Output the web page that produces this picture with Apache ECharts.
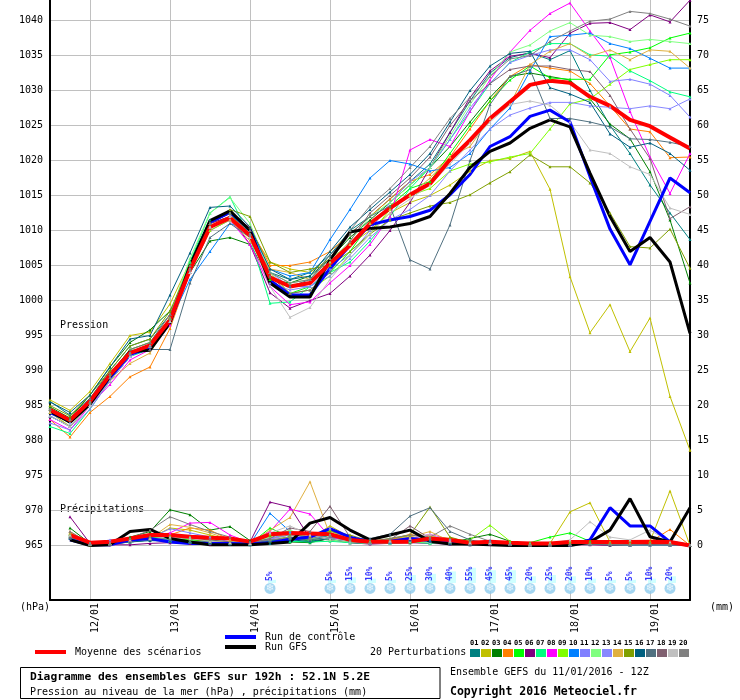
<html lang="fr">
<head>
<meta charset="utf-8">
<title>Diagramme des ensembles GEFS</title>
<script src="https://cdn.jsdelivr.net/npm/echarts@6/dist/echarts.min.js"></script>
<style>
  body { margin: 0; background: #fff; }
  #chart { width: 740px; height: 700px; }
</style>
</head>
<body>
<div id="chart"></div>
<script>
// echeances toutes les 6h, run du 11/01/2016 12Z
var categories = ['11/01 12Z','11/01 18Z','12/01 00Z','12/01 06Z','12/01 12Z','12/01 18Z','13/01 00Z','13/01 06Z','13/01 12Z','13/01 18Z',
  '14/01 00Z','14/01 06Z','14/01 12Z','14/01 18Z','15/01 00Z','15/01 06Z','15/01 12Z','15/01 18Z','16/01 00Z','16/01 06Z',
  '16/01 12Z','16/01 18Z','17/01 00Z','17/01 06Z','17/01 12Z','17/01 18Z','18/01 00Z','18/01 06Z','18/01 12Z','18/01 18Z',
  '19/01 00Z','19/01 06Z','19/01 12Z'];

// pression (hPa)
var meanP = [984.4,982.9,985.6,989.4,992.5,993.6,997.2,1004.4,1010.5,1011.8,1009.3,
  1003.3,1002.0,1002.5,1005.3,1007.9,1011.0,1013.2,1015.1,1016.7,1020.1,1022.9,
  1026.0,1028.4,1030.8,1031.4,1031.1,1029.1,1027.8,1025.8,1024.9,1023.3,1021.7];
var ctrlP = [984.0,982.8,985.3,989.0,992.3,993.2,997.0,1004.8,1011.2,1012.6,1010.1,
  1002.9,1000.8,1000.8,1004.6,1007.9,1010.8,1011.5,1012.0,1012.9,1015.1,1018.0,
  1022.0,1023.4,1026.3,1027.2,1025.5,1017.7,1010.2,1005.1,1011.3,1017.5,1015.4];
var gfsP = [984.2,982.6,985.2,989.2,992.7,992.9,996.8,1005.0,1011.4,1012.8,1010.0,
  1002.5,1000.5,1000.5,1005.8,1009.8,1010.3,1010.5,1011.0,1012.0,1015.3,1019.0,
  1021.3,1022.5,1024.6,1025.8,1024.8,1018.2,1012.0,1007.0,1009.0,1005.5,995.3];

var p01 = [985.6,983.6,986.0,990.0,993.5,994.5,998.0,1005.5,1011.5,1012.5,1009.5,
  1004.0,1003.0,1004.0,1006.5,1010.0,1012.0,1014.5,1017.0,1019.5,1024.0,1028.5,
  1032.5,1034.7,1035.4,1034.4,1035.7,1030.0,1025.0,1021.0,1016.5,1012.5,1008.7];
var p02 = [985.8,984.3,987.0,991.0,995.0,995.5,999.5,1005.5,1011.0,1012.0,1010.0,
  1005.5,1004.5,1004.0,1006.0,1008.0,1010.0,1012.5,1014.0,1015.0,1016.5,1018.5,
  1020.0,1020.3,1021.3,1015.9,1003.4,995.4,999.4,992.7,997.5,986.3,978.6];
var p03 = [984.8,983.2,986.5,990.5,994.0,995.8,998.5,1004.0,1008.5,1009.0,1008.0,
  1003.0,1002.5,1003.5,1006.0,1009.0,1011.5,1014.0,1016.5,1019.0,1022.0,1025.5,
  1029.0,1032.0,1032.5,1032.0,1031.5,1028.8,1025.2,1023.1,1018.4,1011.5,1002.5];
var p04 = [983.0,980.5,984.0,986.3,989.1,990.5,996.0,1004.0,1010.5,1012.0,1010.5,
  1005.0,1005.0,1005.5,1007.0,1009.5,1012.0,1014.5,1017.0,1018.0,1020.5,1024.5,
  1028.5,1032.0,1033.7,1033.2,1032.8,1031.0,1027.8,1024.5,1024.1,1020.4,1020.5];
var p05 = [984.0,982.0,985.0,989.5,993.0,994.0,997.5,1005.0,1011.0,1012.5,1009.0,
  1003.0,1001.0,1002.0,1004.0,1007.0,1011.0,1013.5,1016.0,1017.0,1021.0,1025.0,
  1028.5,1031.5,1033.5,1031.8,1031.6,1031.6,1035.1,1035.5,1036.1,1037.5,1038.2];
var p06 = [983.5,982.0,985.0,988.5,992.0,993.5,997.0,1004.5,1011.0,1012.0,1008.0,
  1001.1,998.9,1000.0,1001.0,1003.5,1006.5,1010.0,1014.0,1019.0,1024.0,1029.0,
  1032.8,1034.9,1035.3,1034.7,1038.2,1039.6,1039.7,1038.7,1040.8,1039.8,1042.9];
var p07 = [982.0,981.0,984.5,988.5,992.0,993.0,997.5,1005.5,1012.5,1014.8,1009.0,
  999.6,999.8,1002.0,1004.0,1005.5,1008.5,1012.0,1016.0,1019.0,1023.0,1027.0,
  1031.0,1034.0,1035.5,1036.7,1036.7,1035.1,1034.9,1032.8,1031.4,1029.8,1029.1];
var p08 = [983.0,981.5,985.0,988.0,991.5,993.0,996.5,1004.0,1010.0,1011.5,1008.0,
  1002.0,999.4,999.8,1002.5,1005.0,1008.0,1012.0,1021.5,1023.0,1022.0,1027.0,
  1031.5,1035.5,1038.6,1041.0,1042.5,1038.5,1034.7,1027.0,1020.5,1015.3,1021.0];
var p09 = [984.5,983.0,985.5,989.0,992.5,993.5,997.5,1004.0,1010.0,1011.5,1009.5,
  1004.0,1001.0,1001.5,1003.5,1006.5,1009.5,1013.0,1015.0,1016.0,1018.5,1019.5,
  1019.8,1020.5,1021.0,1024.5,1028.1,1028.8,1030.9,1033.0,1033.7,1034.4,1034.4];
var p10 = [983.5,982.0,985.0,988.5,992.0,993.5,997.0,1003.0,1007.0,1011.0,1010.0,
  1004.5,1003.5,1004.0,1008.7,1013.0,1017.5,1020.0,1019.5,1018.5,1019.0,1021.0,
  1024.5,1027.5,1032.8,1037.7,1037.9,1038.2,1036.7,1036.0,1034.6,1033.2,1033.2];
var p11 = [982.5,981.5,984.5,988.5,992.0,993.5,997.0,1004.0,1010.5,1012.0,1009.5,
  1004.0,1002.0,1002.0,1004.5,1006.5,1010.0,1014.0,1017.0,1019.0,1023.0,1027.5,
  1031.0,1034.0,1035.0,1035.8,1035.8,1034.4,1031.3,1031.6,1030.9,1029.3,1026.2];
var p12 = [984.0,982.5,985.5,989.5,993.0,994.0,998.0,1006.0,1012.5,1014.7,1011.0,
  1004.0,1002.5,1003.0,1005.5,1008.5,1012.0,1014.0,1016.5,1019.0,1023.5,1028.0,
  1032.0,1035.5,1036.5,1038.5,1039.7,1037.9,1037.7,1037.0,1037.3,1037.0,1036.7];
var p13 = [984.0,982.5,985.0,989.0,992.5,993.5,997.0,1004.5,1010.5,1011.5,1009.0,
  1002.5,1001.5,1002.0,1003.5,1006.0,1009.0,1011.5,1013.0,1015.0,1018.5,1021.5,
  1024.5,1026.5,1027.5,1028.3,1028.3,1027.8,1027.6,1027.4,1027.8,1027.4,1028.8];
var p14 = [984.0,982.0,985.0,988.5,991.0,992.5,997.0,1004.5,1010.5,1011.5,1008.5,
  1004.5,1004.0,1003.0,1005.0,1008.0,1011.0,1013.0,1015.0,1017.5,1020.5,1022.0,
  1026.0,1028.0,1033.7,1035.6,1036.7,1034.9,1035.8,1034.4,1035.8,1035.6,1033.2];
var p15 = [985.0,983.5,986.5,990.0,993.5,994.5,998.5,1005.0,1011.0,1013.0,1012.0,
  1005.5,1004.0,1004.5,1005.0,1007.0,1009.5,1011.5,1012.5,1013.5,1014.0,1015.1,
  1016.8,1018.4,1020.8,1019.1,1019.1,1016.8,1012.5,1007.7,1007.5,1010.2,1004.6];
var p16 = [985.5,984.0,986.5,990.5,994.5,995.0,1000.8,1006.8,1013.3,1013.5,1010.5,
  1004.5,1003.0,1003.5,1007.0,1010.5,1013.0,1015.5,1018.0,1021.0,1025.5,1030.0,
  1033.5,1035.3,1035.6,1030.4,1029.5,1028.3,1023.8,1021.9,1022.5,1021.0,1018.6];
var p17 = [984.5,983.0,985.5,988.5,992.5,993.0,993.0,1002.5,1009.0,1011.0,1009.0,
  1003.5,1002.0,1003.0,1006.5,1009.5,1012.0,1013.5,1005.8,1004.5,1010.8,1020.0,
  1028.0,1032.0,1033.0,1026.0,1026.0,1025.5,1024.8,1023.1,1023.0,1022.6,1022.0];
var p18 = [984.5,983.0,986.0,989.5,993.0,994.0,998.0,1005.0,1011.0,1012.5,1010.0,
  1003.5,1001.0,1001.5,1004.0,1008.5,1012.5,1015.0,1017.5,1020.5,1025.0,1028.5,
  1031.0,1033.0,1033.5,1033.5,1033.0,1032.7,1029.3,1024.5,1020.3,1011.7,1013.4];
var p19 = [983.5,982.0,985.0,988.5,992.0,993.5,997.0,1004.0,1010.5,1012.0,1009.0,
  1002.0,997.6,999.0,1003.0,1006.5,1009.5,1012.5,1014.5,1016.5,1019.5,1022.5,
  1025.5,1028.0,1028.5,1027.9,1025.5,1021.5,1021.0,1019.1,1018.0,1013.2,1012.3];
var p20 = [984.5,983.0,985.5,989.0,992.5,993.5,997.5,1004.5,1011.0,1012.5,1009.5,
  1004.0,1002.5,1003.0,1006.0,1010.0,1013.5,1016.0,1019.0,1022.0,1026.0,1029.0,
  1032.0,1034.5,1035.0,1037.0,1038.5,1039.9,1040.2,1041.3,1041.0,1040.2,1039.2];

// precipitations (mm), a partir de +6h
var meanR = [1.5,0.4,0.55,1.0,1.5,1.5,1.25,1.1, 1.0,0.55,1.6,1.8,1.7,1.6,0.8,0.55, 0.55,0.55,1.0,0.8,0.4,0.55,0.4,0.3, 0.3,0.5,0.5,0.5,0.5,0.55,0.5,0.0];
var ctrlR = [0.8,0.1,0.1,0.8,1.0,0.5,0.3,0.3, 0.3,0.2,0.4,0.9,1.2,2.4,1.2,0.5, 0.6,1.0,0.8,0.4,0.3,0.3,0.1,0.1, 0.0,0.1,0.8,5.4,2.8,2.8,0.5,0.0];
var gfsR = [0.8,0.0,0.1,2.0,2.3,1.0,0.5,0.1, 0.1,0.1,0.3,0.5,3.2,4.0,2.2,0.8, 1.5,2.2,0.6,0.2,0.2,0.1,0.0,0.0, 0.0,0.0,0.5,2.2,6.7,1.25,0.5,5.4];
var r01 = [1.2,0.1,0.2,0.5,0.8,0.6,0.4,0.3, 0.2,0.1,0.3,0.6,0.5,1.0,0.4,0.3, 0.4,0.6,0.4,0.2,0.1,0.2,0.1,0.0, 0.0,0.1,0.2,0.1,0.1,0.2,0.1,0.0];
var r02 = [1.8,0.1,0.2,0.6,1.0,2.5,2.2,1.5, 0.8,0.2,0.6,1.2,1.0,2.8,1.2,0.5, 0.8,1.4,1.4,1.0,0.6,0.4,0.2,0.1, 0.3,4.8,6.1,0.5,0.3,0.6,7.8,0.0];
var r03 = [2.5,0.3,0.2,1.2,2.0,5.1,4.4,2.2, 2.7,0.7,0.8,0.5,0.4,1.0,0.8,0.3, 0.5,0.6,0.8,0.4,1.0,1.6,0.6,0.2, 0.1,0.2,0.2,0.2,0.3,0.3,0.2,0.0];
var r04 = [2.0,0.2,0.3,0.8,1.2,1.5,2.5,2.2, 0.8,0.3,1.0,1.5,1.3,2.2,1.0,0.4, 0.8,1.6,1.0,0.4,0.2,0.3,0.2,0.1, 0.1,0.2,0.3,0.5,0.4,0.5,2.3,0.0];
var r05 = [1.6,0.3,0.3,1.0,1.2,1.0,0.8,0.6, 0.4,0.2,2.5,1.2,0.6,1.5,0.8,0.6, 0.6,0.4,0.5,0.5,0.3,0.4,0.2,0.4, 1.2,1.8,0.6,0.2,0.1,0.2,0.1,0.0];
var r06 = [4.1,0.3,0.1,0.1,0.3,0.4,0.3,0.2, 0.3,0.5,6.2,5.5,1.0,0.8,0.4,0.2, 0.3,0.4,0.3,0.2,0.1,0.2,0.1,0.0, 0.0,0.1,0.1,0.0,0.1,0.1,0.1,0.0];
var r07 = [1.4,0.2,0.3,0.6,0.8,0.7,0.5,0.4, 0.3,0.2,0.8,0.6,0.5,0.6,0.4,0.3, 0.3,0.5,0.3,0.6,0.4,0.3,0.2,0.2, 0.2,0.2,0.3,0.2,0.1,0.2,0.1,0.0];
var r08 = [1.5,0.2,0.3,0.8,1.2,1.8,3.2,3.3, 1.5,0.4,2.0,5.2,4.5,1.2,0.6,0.4, 0.6,1.0,1.6,0.8,0.3,0.3,0.2,0.1, 0.1,0.1,0.2,0.2,0.1,0.2,0.1,0.0];
var r09 = [1.3,0.2,0.2,0.5,0.8,0.6,0.6,0.5, 0.4,0.3,1.5,1.0,0.8,2.2,0.6,0.4, 0.5,0.8,0.6,0.5,0.8,2.9,0.6,0.3, 0.4,0.5,0.4,0.3,0.2,0.3,0.2,0.0];
var r10 = [1.2,0.2,0.2,0.6,0.9,0.8,0.6,0.5, 0.3,0.2,4.6,2.0,0.8,1.5,0.6,0.4, 0.5,0.9,0.7,0.5,0.4,0.7,0.3,0.1, 0.1,0.1,0.2,0.2,0.1,0.1,0.1,0.0];
var r11 = [1.3,0.3,0.8,0.8,1.0,2.4,1.8,1.2, 0.5,0.3,1.0,1.8,1.2,1.5,0.6,0.4, 0.5,0.8,0.6,0.9,0.4,0.5,0.2,0.1, 0.1,0.2,0.2,0.2,0.1,0.2,0.1,0.0];
var r12 = [1.4,0.2,0.3,0.6,0.8,1.0,1.2,0.8, 0.5,0.3,1.2,2.2,1.0,0.8,0.5,0.3, 0.4,0.6,0.4,0.3,0.2,0.4,0.2,0.1, 0.1,0.2,0.2,0.1,0.1,0.1,0.1,0.0];
var r13 = [1.0,0.2,0.2,0.5,0.8,0.7,0.5,0.4, 0.3,0.2,0.9,1.5,1.2,2.5,0.6,0.3, 0.4,0.7,0.5,0.4,0.3,0.3,0.2,0.1, 0.1,0.1,0.2,0.2,0.1,0.1,0.1,0.0];
var r14 = [1.8,0.3,0.2,0.8,1.0,3.0,2.6,1.8, 0.8,0.3,2.2,4.0,9.1,1.5,0.8,0.4, 0.8,1.2,2.0,0.6,0.3,0.4,0.2,0.1, 0.1,0.2,0.3,0.3,0.2,0.2,0.3,0.0];
var r15 = [1.6,0.2,0.3,0.8,1.2,1.4,0.9,0.6, 0.5,0.3,1.4,1.6,1.2,2.0,1.5,0.6, 1.0,1.5,5.5,1.2,0.4,0.4,0.2,0.1, 0.1,0.3,0.5,0.4,0.6,0.5,0.4,0.0];
var r16 = [1.0,0.2,0.2,0.5,0.7,0.6,0.5,0.4, 0.3,0.2,0.6,0.8,0.6,1.0,0.6,0.4, 0.5,0.8,0.6,0.3,0.2,0.3,0.2,0.1, 0.1,0.1,0.2,0.1,0.1,0.1,0.1,0.0];
var r17 = [1.1,0.2,0.3,0.8,1.0,0.9,0.6,0.5, 0.3,0.2,0.8,1.0,0.8,1.2,1.0,1.0, 1.6,4.2,5.4,2.0,0.8,0.3,0.2,0.1, 0.1,0.1,0.2,0.2,0.1,0.1,0.1,0.0];
var r18 = [1.2,0.2,0.2,0.6,0.9,1.2,1.0,0.8, 0.5,0.3,1.0,2.5,2.0,5.6,1.2,0.5, 0.8,2.8,1.0,0.5,0.3,0.3,0.2,0.1, 0.1,0.2,0.2,0.2,0.1,0.2,0.1,0.0];
var r19 = [1.5,0.2,0.3,0.8,1.0,1.2,1.0,0.6, 0.4,0.3,1.8,2.8,1.5,1.0,0.6,0.5, 0.6,1.0,1.6,0.6,0.4,0.4,0.3,0.2, 0.3,0.8,3.4,1.2,0.8,2.2,0.5,0.0];
var r20 = [2.0,0.3,0.3,1.0,2.2,4.1,3.0,2.0, 1.2,0.5,0.8,1.2,1.0,1.5,0.8,0.5, 1.0,1.5,1.2,2.8,1.6,0.6,0.3,0.2, 0.2,0.2,0.3,0.2,0.2,0.3,0.2,0.0];

// probabilite de neige (%) par echeance, 0 = pas d'icone
var snowProb = [0,0,0,0,0,0,0,0,0,0,0, 5,0,0,5,15,10,5,25,30,40,55, 45,45,20,25,20,10,5,5,10,20,0];

var pertColors = ['#008080','#c0c000','#008000','#ff8000','#00ff00','#800080','#00ff80','#ff00ff','#80ff00','#0080ff',
  '#8080ff','#80ff80','#8888ff','#e0b040','#80a000','#006080','#507080','#806070','#c0c0c0','#808080'];
var pertP = [p01,p02,p03,p04,p05,p06,p07,p08,p09,p10,p11,p12,p13,p14,p15,p16,p17,p18,p19,p20];
var pertR = [r01,r02,r03,r04,r05,r06,r07,r08,r09,r10,r11,r12,r13,r14,r15,r16,r17,r18,r19,r20];

var MONO = "'DejaVu Sans Mono', monospace";
// niveaux (en unites hPa de l'axe cadre) pour les icones de neige
var SNOW_ICON_Y = 958.86, SNOW_BAR_Y = 959.64, SNOW_TXT_Y = 960.07;

function rr(a) { return ['-'].concat(a); }
function isDay(i, v) { return v.indexOf('00Z') > 0; }

var series = [];
pertP.forEach(function (d, k) {
  series.push({ type: 'line', xAxisIndex: 0, yAxisIndex: 0, data: d, symbol: 'triangle', symbolSize: 3,
    lineStyle: { width: 1, color: pertColors[k] }, itemStyle: { color: pertColors[k] }, silent: true });
  series.push({ type: 'line', xAxisIndex: 0, yAxisIndex: 1, data: rr(pertR[k]), symbol: 'triangle', symbolSize: 3,
    lineStyle: { width: 1, color: pertColors[k] }, itemStyle: { color: pertColors[k] }, silent: true });
});
[[ctrlP, ctrlR, '#0000ff', 3], [gfsP, gfsR, '#000000', 3], [meanP, meanR, '#ff0000', 4]].forEach(function (s) {
  series.push({ type: 'line', xAxisIndex: 0, yAxisIndex: 0, data: s[0], showSymbol: false,
    lineStyle: { width: s[3], color: s[2] }, itemStyle: { color: s[2] }, silent: true });
  series.push({ type: 'line', xAxisIndex: 0, yAxisIndex: 1, data: rr(s[1]), showSymbol: false,
    lineStyle: { width: s[3], color: s[2] }, itemStyle: { color: s[2] }, silent: true });
});

var snowBars = [], snowIcons = [], snowTxt = [];
snowProb.forEach(function (p, i) {
  if (!p) return;
  var h = 2 + 0.24 * p;
  snowBars.push({ value: [i, SNOW_BAR_Y], symbolSize: [8, h], symbolOffset: [2, -h / 2] });
  snowIcons.push([i, SNOW_ICON_Y]);
  snowTxt.push({ value: [i, SNOW_TXT_Y], pct: p });
});
series.push({ type: 'scatter', xAxisIndex: 0, yAxisIndex: 0, data: snowBars, symbol: 'rect',
  itemStyle: { color: '#c4ffff' }, silent: true, z: 3 });
series.push({ type: 'scatter', xAxisIndex: 0, yAxisIndex: 0, data: snowIcons, symbol: 'circle', symbolSize: 11,
  itemStyle: { color: '#8ccbee' }, silent: true, z: 3,
  label: { show: true, position: 'inside', formatter: '\u2744', color: '#ffffff', fontSize: 10, fontFamily: 'DejaVu Sans' } });
series.push({ type: 'scatter', xAxisIndex: 0, yAxisIndex: 0, data: snowTxt, symbolSize: 0, silent: true, z: 4,
  label: { show: true, position: 'inside', rotate: 90, align: 'left', verticalAlign: 'middle', offset: [-1, 0],
    formatter: function (o) { return o.data.pct + '%'; }, color: '#0000ff', fontSize: 8, fontWeight: 'bold', fontFamily: MONO } });

// legende des perturbations
var graphics = [];
pertColors.forEach(function (c, k) {
  graphics.push({ type: 'rect', shape: { x: 470 + 11 * k, y: 649, width: 10, height: 8 }, style: { fill: c } });
  graphics.push({ type: 'text', x: 470 + 11 * k, y: 643, style: { text: (k < 9 ? '0' : '') + (k + 1),
    font: 'bold 7px ' + MONO, fill: '#000', verticalAlign: 'middle' } });
});
function txt(x, y, s, font) {
  graphics.push({ type: 'text', x: x, y: y, style: { text: s, font: font || ('10px ' + MONO), fill: '#000', verticalAlign: 'middle' } });
}
txt(60, 325, 'Pression');
txt(60, 509, 'Précipitations');
txt(20, 607, '(hPa)');
txt(710, 607, '(mm)');
txt(75, 652, 'Moyenne des scénarios');
txt(265, 637, 'Run de contrôle');
txt(265, 647, 'Run GFS');
txt(370, 652, '20 Perturbations');
txt(30, 677, 'Diagramme des ensembles GEFS sur 192h : 52.1N 5.2E', 'bold 11.3px ' + MONO);
txt(30, 692, 'Pression au niveau de la mer (hPa) , précipitations (mm)');
txt(450, 672, 'Ensemble GEFS du 11/01/2016 - 12Z');
txt(450, 692, 'Copyright 2016 Meteociel.fr', 'bold 11.5px ' + MONO);
graphics.push({ type: 'line', shape: { x1: 35, y1: 652, x2: 66, y2: 652 }, style: { stroke: '#ff0000', lineWidth: 4 } });
graphics.push({ type: 'line', shape: { x1: 225, y1: 637, x2: 256, y2: 637 }, style: { stroke: '#0000ff', lineWidth: 4 } });
graphics.push({ type: 'line', shape: { x1: 225, y1: 647, x2: 256, y2: 647 }, style: { stroke: '#000000', lineWidth: 4 } });
graphics.push({ type: 'rect', shape: { x: 20.5, y: 667.5, width: 419.5, height: 31 }, style: { fill: 'none', stroke: '#000', lineWidth: 1 } });

var chart = echarts.init(document.getElementById('chart'), null, { renderer: 'canvas' });
chart.setOption({
  animation: false,
  backgroundColor: '#fff',
  grid: [
    { left: 50, top: 0, width: 640, height: 600 },
    { left: 50, top: 20.5, width: 640, height: 525 }
  ],
  xAxis: [
    { gridIndex: 0, type: 'category', data: categories, boundaryGap: false,
      axisLine: { onZero: false, lineStyle: { color: '#000', width: 2 } }, axisTick: { show: false },
      axisLabel: { interval: isDay, formatter: function (v) { return v.substr(0, 5); }, rotate: 90,
        verticalAlign: 'top', margin: 3, color: '#000', fontSize: 10, fontFamily: MONO },
      splitLine: { show: true, interval: isDay, lineStyle: { color: '#c0c0c0', width: 1 } } },
    { gridIndex: 1, type: 'category', data: categories, boundaryGap: false, show: false }
  ],
  yAxis: [
    { gridIndex: 0, type: 'value', min: 957.214, max: 1042.929, position: 'left',
      axisLine: { show: true, lineStyle: { color: '#000', width: 2 } }, axisTick: { show: false },
      axisLabel: { show: false }, splitLine: { show: false } },
    { gridIndex: 0, type: 'value', min: -7.786, max: 77.929, position: 'right',
      axisLine: { show: true, lineStyle: { color: '#000', width: 2 } }, axisTick: { show: false },
      axisLabel: { show: false }, splitLine: { show: false } },
    { gridIndex: 1, type: 'value', min: 965, max: 1040, interval: 5, position: 'left',
      axisLine: { show: false }, axisTick: { show: false },
      axisLabel: { margin: 7, color: '#000', fontSize: 10, fontFamily: MONO, formatter: function (v) { return String(v); } },
      splitLine: { show: true, lineStyle: { color: '#c0c0c0', width: 1 } } },
    { gridIndex: 1, type: 'value', min: 0, max: 75, interval: 5, position: 'right',
      axisLine: { show: false }, axisTick: { show: false },
      axisLabel: { margin: 7, color: '#000', fontSize: 10, fontFamily: MONO, formatter: function (v) { return String(v); } },
      splitLine: { show: false } }
  ],
  graphic: graphics,
  series: series
});
</script>
</body>
</html>
